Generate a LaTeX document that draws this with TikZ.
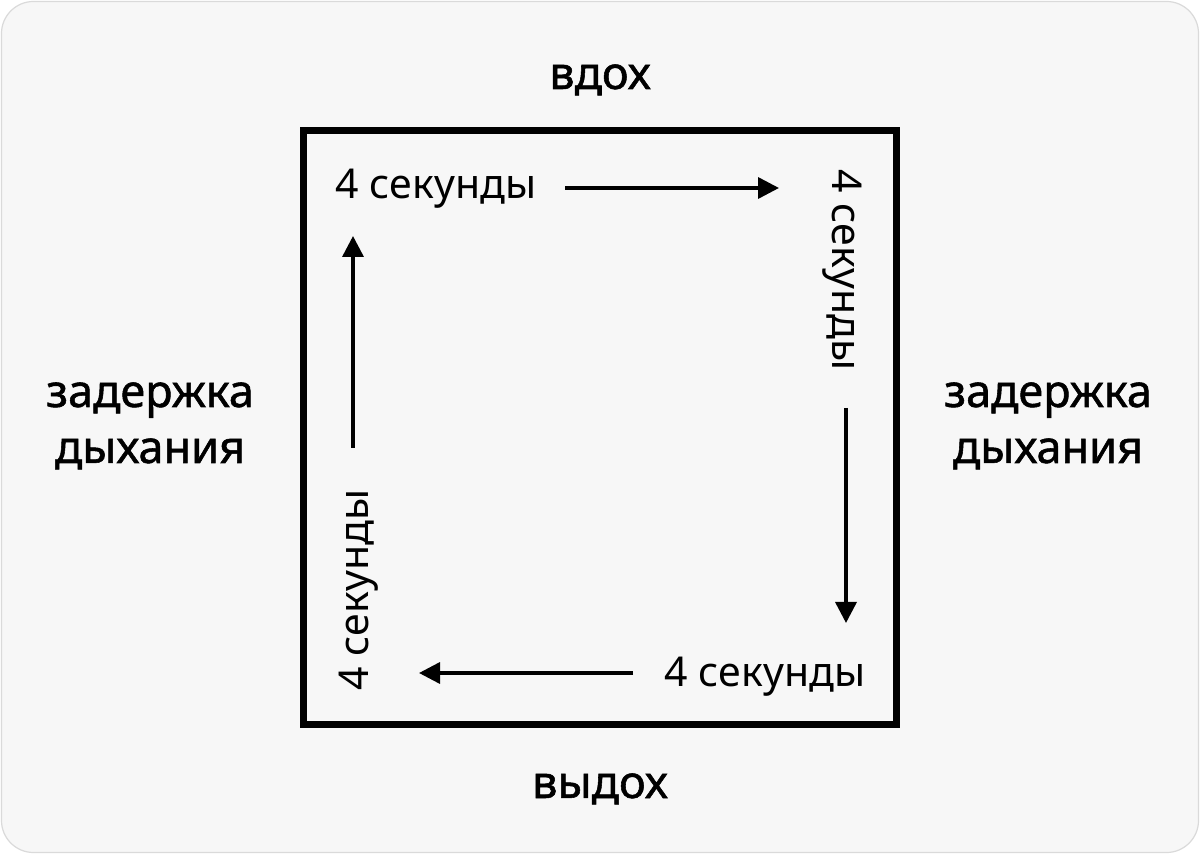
\documentclass[tikz,border=0pt]{standalone}
\usepackage{fontspec}
\setmainfont{Noto Sans}
\newfontfamily\labelfont[FakeBold=1.2]{Noto Sans}
\usepackage{tikz}
\usetikzlibrary{arrows.meta}
\definecolor{paper}{HTML}{F7F7F7}
\definecolor{rim}{HTML}{DADADA}

\begin{document}
\begin{tikzpicture}
    [
      x = 1pt, y = 1pt,
      phase/.style = {font=\labelfont\fontsize{45}{56}\selectfont, align=center, anchor=base, inner sep=0pt},
      count/.style = {font=\fontsize{41}{48}\selectfont, anchor=base, inner sep=0pt},
      flow/.style = {line width=3.5pt, -{Triangle[length=21pt,width=21pt]}},
    ]

    \fill[white] (0,0) rectangle (1200,855);
    \draw[fill=paper, draw=rim, line width=1.2pt, rounded corners=32pt] (1.5,2.5) rectangle (1198.5,853.5);
    \useasboundingbox (0,0) rectangle (1200,855);

    \node[draw, line width=7pt, minimum width=593pt, minimum height=593pt, inner sep=0pt] (square) at (599.5,427.5) {};

    \node[phase] (inhale) at (600,766) {вдох};
    \node[phase] (exhale) at (600,57) {выдох};
    \node[phase] (holdleft) at (150,392) {задержка\\дыхания};
    \node[phase] (holdright) at (1048,392) {задержка\\дыхания};

    \node[count] (top) at (436,656) {4 секунды};
    \node[count, rotate=-90] (right) at (832,585) {4 секунды};
    \node[count] (bottom) at (765,168) {4 секунды};
    \node[count, rotate=90] (left) at (368,265) {4 секунды};

    \coordinate (topend) at (779,667);
    \coordinate (rightend) at (846,232);
    \coordinate (bottomend) at (419,182);
    \coordinate (leftend) at (353,619);

    \draw[flow] (565,667) -- (topend);
    \draw[flow] (846,447) -- (rightend);
    \draw[flow] (633,182) -- (bottomend);
    \draw[flow] (353,407) -- (leftend);
  \end{tikzpicture}
\end{document}
